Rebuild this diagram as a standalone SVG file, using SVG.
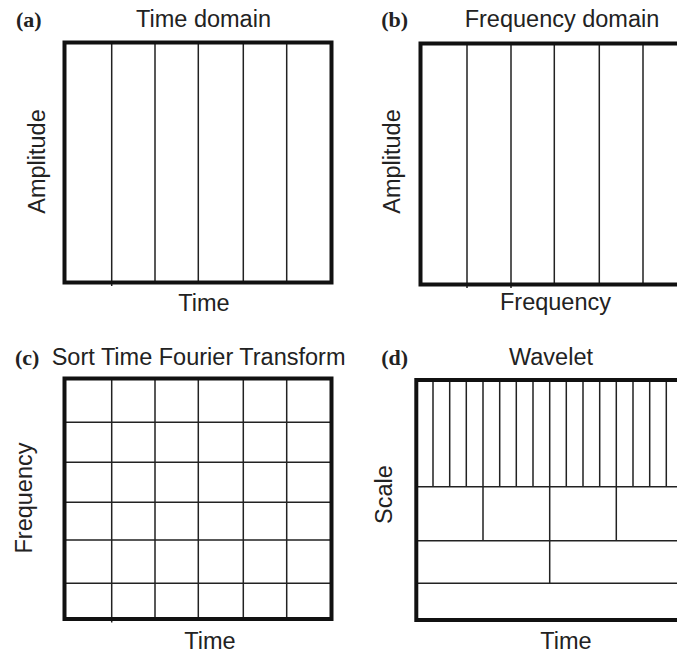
<svg xmlns="http://www.w3.org/2000/svg" width="677" height="655" viewBox="0 0 677 655">
<style>
.frame{fill:none;stroke:#111;stroke-width:4}
.grid{stroke:#222;stroke-width:1.5;fill:none}
.lbl{font-family:"Liberation Sans",Arial,sans-serif;font-size:23.5px;fill:#222}
.tag{font-family:"Liberation Serif","Times New Roman",serif;font-size:22px;font-weight:bold;fill:#222}
</style>
<rect width="677" height="655" fill="#fff"/>
<g id="panel-a">
  <text class="tag" x="16" y="27">(a)</text>
  <text class="lbl" x="203.5" y="27" text-anchor="middle">Time domain</text>
  <path class="grid" d="M111.7 42.5V286M155 42.5V282.5M198.3 42.5V282.5M243.3 42.5V282.5M286.7 42.5V282.5"/>
  <rect class="frame" x="64.5" y="42.5" width="267" height="240"/>
  <text class="lbl" x="204" y="311" text-anchor="middle">Time</text>
  <text class="lbl" transform="translate(45 161.5) rotate(-90)" text-anchor="middle">Amplitude</text>
</g>
<g id="panel-b">
  <text class="tag" x="381.3" y="27">(b)</text>
  <text class="lbl" x="562" y="27" text-anchor="middle">Frequency domain</text>
  <path class="grid" d="M467 43.5V288M511 43.5V288M554.3 43.5V284.5M599.3 43.5V284.5M643 43.5V284.5"/>
  <rect class="frame" x="420.5" y="43.5" width="267" height="241"/>
  <text class="lbl" x="555.5" y="310" text-anchor="middle">Frequency</text>
  <text class="lbl" transform="translate(400 161.5) rotate(-90)" text-anchor="middle">Amplitude</text>
</g>
<g id="panel-c">
  <text class="tag" x="15" y="365">(c)</text>
  <text class="lbl" x="51.7" y="365">Sort Time Fourier Transform</text>
  <path class="grid" d="M111.7 378.5V622.5M155 378.5V619M198.3 378.5V619M243.3 378.5V619M286.7 378.5V619M64.5 422.3H331.5M64.5 462.3H331.5M64.5 502.3H331.5M64.5 540H331.5M64.5 583.3H331.5"/>
  <rect class="frame" x="64.5" y="378.5" width="267" height="240.5"/>
  <text class="lbl" x="210" y="649" text-anchor="middle">Time</text>
  <text class="lbl" transform="translate(31.5 498) rotate(-90)" text-anchor="middle">Frequency</text>
</g>
<g id="panel-d">
  <text class="tag" x="381.3" y="365">(d)</text>
  <text class="lbl" x="551" y="365" text-anchor="middle">Wavelet</text>
  <path class="grid" d="M433 380V486.7M449.7 380V486.7M466.3 380V486.7M483 380V486.7M499.7 380V486.7M516.3 380V486.7M533 380V486.7M549.7 380V486.7M566.3 380V486.7M583 380V486.7M599.7 380V486.7M616.3 380V486.7M633 380V486.7M649.7 380V486.7M666.3 380V486.7M416.3 486.7H683M483 486.7V540.7M549.7 486.7V583.3M616.3 486.7V540.7M416.3 540.7H683M416.3 583.3H683"/>
  <rect class="frame" x="416.3" y="380" width="266.7" height="240"/>
  <text class="lbl" x="566" y="649" text-anchor="middle">Time</text>
  <text class="lbl" transform="translate(392 494.5) rotate(-90)" text-anchor="middle">Scale</text>
</g>
<g id="connectors"/>
</svg>
